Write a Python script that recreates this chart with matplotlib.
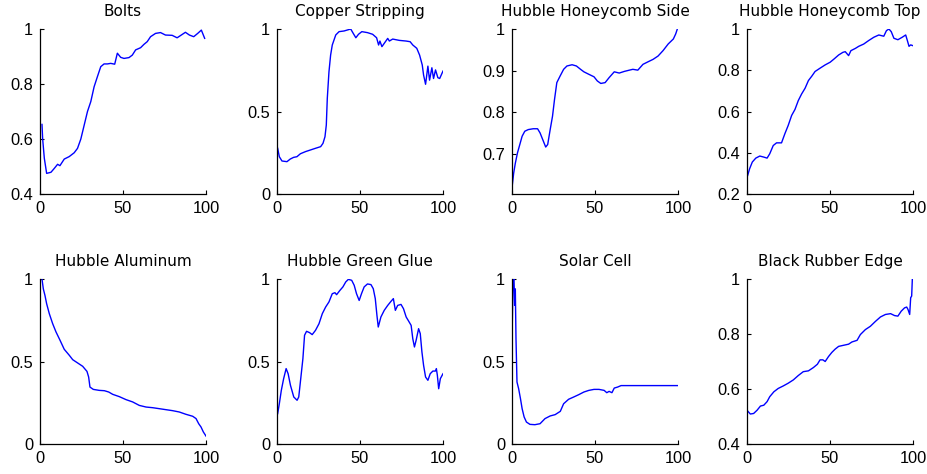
import numpy as np
import matplotlib
matplotlib.use("Agg")
import matplotlib.pyplot as plt

plt.rcParams['font.family'] = ['Liberation Sans', 'DejaVu Sans']

titles = ["Bolts", "Copper Stripping", "Hubble Honeycomb Side", "Hubble Honeycomb Top",
          "Hubble Aluminum", "Hubble Green Glue", "Solar Cell", "Black Rubber Edge"]

# curves (x = sample position 0..100, y = normalised value)
bolts_x = [1.2, 1.6, 2.6, 4, 6.6, 8.6, 10.6, 12, 14.6, 17.6, 20.6, 22.6, 24.6, 26.6, 28.6,
           30.6, 32.6, 34.6, 36.6, 38.6, 40.6, 42.6, 45, 46.6, 48.6, 50.6, 53.6, 55.6, 57.6,
           60.6, 62.6, 64.6, 66.6, 69.6, 72.6, 75.6, 79.6, 82.6, 84.6, 87.6, 90, 92.6, 95,
           97.2, 98, 99.2]
bolts_y = [0.653, 0.60, 0.53, 0.475, 0.479, 0.493, 0.508, 0.503, 0.527, 0.536, 0.55, 0.566,
           0.60, 0.65, 0.70, 0.736, 0.79, 0.827, 0.863, 0.873, 0.873, 0.875, 0.872, 0.912,
           0.897, 0.893, 0.896, 0.905, 0.924, 0.932, 0.944, 0.954, 0.972, 0.984, 0.987, 0.978,
           0.977, 0.968, 0.976, 0.988, 0.978, 0.972, 0.984, 0.996, 0.984, 0.966]

copper_x = [0.4, 1.4, 3, 6, 8, 10, 12, 14.1, 17.2, 20.2, 23.2, 26.3, 27.7, 28.9, 29.7, 30.3,
            31.3, 32.3, 33.3, 35.4, 37.4, 40.4, 42.4, 44.4, 45.9, 47.5, 49.1, 51.1, 54.5,
            57.6, 60, 61.2, 62, 63.2, 64.6, 66.7, 67.7, 69.7, 73.7, 77.8, 80.2, 81.8, 84.2,
            85.9, 87.5, 88.3, 89.5, 90.9, 91.9, 93.3, 94.3, 95.5, 96.9, 98, 100]
copper_y = [0.277, 0.226, 0.20, 0.196, 0.212, 0.222, 0.226, 0.244, 0.257, 0.267, 0.277,
            0.287, 0.307, 0.347, 0.418, 0.58, 0.74, 0.842, 0.903, 0.964, 0.984, 0.988, 0.994,
            1.0, 0.974, 0.947, 0.968, 0.984, 0.978, 0.968, 0.947, 0.903, 0.927, 0.893, 0.913,
            0.943, 0.927, 0.939, 0.931, 0.927, 0.923, 0.903, 0.883, 0.842, 0.782, 0.721,
            0.665, 0.775, 0.69, 0.765, 0.70, 0.752, 0.705, 0.70, 0.745]

hhs_x = [0.2, 1, 2, 3.3, 4.7, 6.1, 7.7, 9.8, 12.8, 15.4, 16.9, 18.5, 20.3, 21.5, 23, 24.4,
         25.6, 27, 29, 31.1, 33.1, 36.2, 38.8, 41.3, 43.3, 46.3, 49.4, 51.4, 53.5, 56.1,
         58.5, 61.6, 64.6, 67.7, 70.7, 72.8, 75.8, 78.9, 81.9, 85, 88, 91, 94.1, 97.2,
         98.6, 99.6]
hhs_y = [0.625, 0.653, 0.677, 0.702, 0.722, 0.742, 0.754, 0.758, 0.760, 0.760, 0.75, 0.734,
         0.716, 0.722, 0.758, 0.79, 0.83, 0.871, 0.887, 0.903, 0.911, 0.914, 0.911, 0.903,
         0.897, 0.891, 0.885, 0.875, 0.869, 0.871, 0.883, 0.897, 0.894, 0.898, 0.901, 0.903,
         0.901, 0.915, 0.921, 0.927, 0.935, 0.948, 0.964, 0.976, 0.988, 1.0]

hht_x = [0.4, 1.6, 3.2, 5.3, 7.7, 10.1, 12.1, 13.7, 15.8, 17.8, 20.8, 22.8, 24.8, 26.9,
         28.9, 30.9, 32.9, 35, 37, 39, 41, 44, 47.1, 50.1, 52.5, 55.2, 57.8, 59.2, 61.2,
         62.6, 65.3, 67.3, 70.3, 73.3, 76.4, 79.4, 82.4, 84, 85.5, 86.9, 88.5, 90.9, 93.5,
         95.6, 96.6, 97.6, 98.6, 100]
hht_y = [0.29, 0.323, 0.355, 0.374, 0.384, 0.379, 0.374, 0.395, 0.435, 0.448, 0.448, 0.492,
         0.532, 0.581, 0.61, 0.653, 0.685, 0.713, 0.75, 0.771, 0.794, 0.81, 0.826, 0.839,
         0.855, 0.874, 0.887, 0.89, 0.871, 0.895, 0.906, 0.916, 0.927, 0.944, 0.96, 0.971,
         0.965, 0.992, 1.0, 0.987, 0.955, 0.948, 0.96, 0.971, 0.944, 0.916, 0.923, 0.919]

alu_x = [1.2, 2, 3, 4, 5.6, 7.6, 9.6, 12, 14.6, 17.7, 19.7, 22.7, 25.7, 28.3, 29.3, 30.1,
         32.1, 35.7, 38.8, 41.4, 43.8, 47.8, 51.8, 55.8, 59.8, 63.9, 67.9, 71.9, 75.9, 79.9,
         83.9, 87.9, 92, 94, 95.6, 97, 98.4, 100]
alu_y = [1.0, 0.94, 0.90, 0.85, 0.79, 0.73, 0.68, 0.63, 0.574, 0.537, 0.511, 0.491, 0.471,
         0.44, 0.406, 0.345, 0.331, 0.325, 0.323, 0.315, 0.301, 0.287, 0.269, 0.255, 0.234,
         0.224, 0.22, 0.214, 0.208, 0.202, 0.194, 0.18, 0.168, 0.154, 0.123, 0.103, 0.073,
         0.048]

glue_x = [0.4, 1.4, 2.6, 4, 5.5, 6.7, 8.1, 10.1, 12.1, 13.1, 14.3, 15.6, 16.6, 17.8, 19.6,
          21.2, 23.2, 25.3, 27.3, 29.3, 31.3, 33.3, 34.9, 35.9, 37.9, 39.7, 41.4, 43, 45,
          46.5, 47.9, 49.5, 50.9, 52.5, 54.5, 56.6, 58, 59.2, 60.2, 61, 62.6, 64.6, 66.7,
          68.7, 70.1, 71.3, 72.7, 74.7, 76.2, 77.8, 79.4, 80.8, 81.8, 82.8, 83.8, 85.3, 86.3,
          87.3, 88.3, 89.5, 90.9, 92.3, 93.9, 95.4, 96, 96.6, 97.4, 98.4, 100]
glue_y = [0.184, 0.244, 0.325, 0.396, 0.457, 0.426, 0.356, 0.285, 0.265, 0.285, 0.396,
          0.517, 0.659, 0.683, 0.675, 0.663, 0.689, 0.729, 0.79, 0.83, 0.861, 0.911, 0.917,
          0.905, 0.931, 0.952, 0.982, 0.998, 0.992, 0.962, 0.911, 0.87, 0.911, 0.952, 0.97,
          0.966, 0.941, 0.881, 0.78, 0.709, 0.77, 0.81, 0.84, 0.865, 0.881, 0.81, 0.84, 0.846,
          0.82, 0.77, 0.743, 0.719, 0.638, 0.588, 0.628, 0.699, 0.669, 0.558, 0.477, 0.406,
          0.386, 0.426, 0.442, 0.442, 0.457, 0.416, 0.335, 0.396, 0.426]

solar_x = [0.2, 0.6, 1.2, 1.6, 2, 2.4, 3, 4, 5.1, 6.1, 7.3, 8.7, 10.8, 13.8, 16.9, 19.9,
           23, 26, 29.1, 31.1, 34.1, 37.2, 40.2, 43.3, 46.3, 49.4, 52.4, 55.5, 57.1, 58.5,
           60.2, 61.6, 63.6, 65.7, 70.7, 100]
solar_y = [0.74, 0.99, 1.0, 0.84, 0.94, 0.64, 0.376, 0.335, 0.275, 0.214, 0.164, 0.133,
           0.119, 0.117, 0.123, 0.154, 0.17, 0.178, 0.198, 0.244, 0.271, 0.285, 0.299, 0.315,
           0.325, 0.331, 0.331, 0.325, 0.311, 0.319, 0.311, 0.339, 0.345, 0.354, 0.354, 0.354]

rubber_x = [0.4, 2, 4, 6.1, 8.1, 10.1, 12.1, 13.7, 16.2, 18.8, 21.8, 24.8, 27.9, 30.9, 33.9,
            37, 40, 42.4, 44, 45.7, 47.1, 49.1, 51.1, 53.1, 55.2, 58.2, 61.2, 63.2, 66.3,
            68.3, 71.3, 74.3, 77.4, 80.4, 83.4, 86.5, 88.9, 90.9, 92.9, 94.9, 96.2, 97, 98,
            98.6, 99.2, 99.6]
rubber_y = [0.52, 0.509, 0.511, 0.523, 0.538, 0.541, 0.554, 0.572, 0.59, 0.602, 0.611, 0.621,
            0.633, 0.649, 0.663, 0.666, 0.678, 0.69, 0.706, 0.706, 0.70, 0.718, 0.733, 0.745,
            0.755, 0.759, 0.763, 0.771, 0.777, 0.798, 0.816, 0.828, 0.846, 0.862, 0.871, 0.874,
            0.867, 0.865, 0.883, 0.895, 0.898, 0.889, 0.871, 0.932, 0.938, 1.0]

xs = [bolts_x, copper_x, hhs_x, hht_x, alu_x, glue_x, solar_x, rubber_x]
ys = [bolts_y, copper_y, hhs_y, hht_y, alu_y, glue_y, solar_y, rubber_y]

ylims = [(0.4, 1), (0, 1), (0.603, 1), (0.2, 1), (0, 1), (0, 1), (0, 1), (0.4, 1)]
yticks = [[0.4, 0.6, 0.8, 1], [0, 0.5, 1], [0.7, 0.8, 0.9, 1], [0.2, 0.4, 0.6, 0.8, 1],
          [0, 0.5, 1], [0, 0.5, 1], [0, 0.5, 1], [0.4, 0.6, 0.8, 1]]
yticklabels = [["0.4", "0.6", "0.8", "1"], ["0", "0.5", "1"], ["0.7", "0.8", "0.9", "1"],
               ["0.2", "0.4", "0.6", "0.8", "1"], ["0", "0.5", "1"], ["0", "0.5", "1"],
               ["0", "0.5", "1"], ["0.4", "0.6", "0.8", "1"]]

W, H = 928, 474
fig = plt.figure(figsize=(W / 100, H / 100), dpi=100)

lefts = [40, 277, 512, 747]
tops = [29, 279]
aw, ah = 166, 165

for i in range(8):
    r, c = divmod(i, 4)
    ax = fig.add_axes([lefts[c] / W, (H - tops[r] - ah) / H, aw / W, ah / H])
    ax.plot(xs[i], ys[i], color='blue', lw=1.0)
    ax.set_xlim(0, 100)
    ax.set_ylim(*ylims[i])
    ax.set_xticks([0, 50, 100])
    ax.set_xticklabels(["0", "50", "100"])
    ax.set_yticks(yticks[i])
    ax.set_yticklabels(yticklabels[i])
    for s in ['top', 'right']:
        ax.spines[s].set_visible(False)
    for s in ['left', 'bottom']:
        ax.spines[s].set_linewidth(0.9)
        ax.spines[s].set_color('black')
    ax.tick_params(direction='in', length=3, width=0.8, labelsize=11.8, pad=5,
                   colors='black')
    ax.set_title(titles[i], fontsize=11, pad=9.5, family='DejaVu Sans')

fig.savefig("out.png", dpi=100)
